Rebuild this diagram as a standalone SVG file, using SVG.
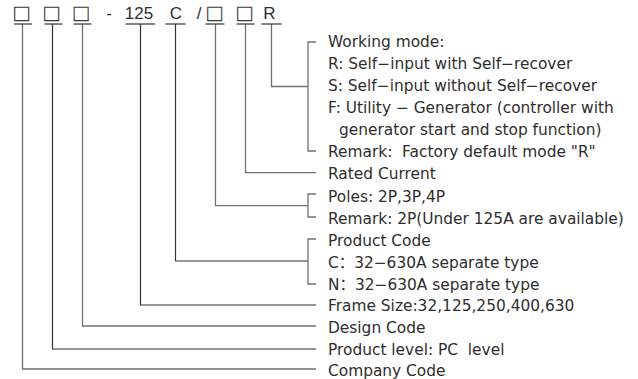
<svg xmlns="http://www.w3.org/2000/svg" width="638" height="379" viewBox="0 0 638 379">
<style>
  .t { font-family: "DejaVu Sans", "Noto Sans CJK SC", sans-serif; font-size: 15.4px; fill: #2e2e2e; }
  .h { font-family: "Liberation Sans", Arial, sans-serif; font-size: 17px; fill: #2e2e2e; text-anchor: middle; }
  .b { font-family: "DejaVu Sans", sans-serif; font-size: 19.5px; fill: #3a3a3a; text-anchor: middle; }
  .d { fill: none; stroke: #333; stroke-width: 1.2; }
  .g { fill: none; stroke: #707070; stroke-width: 1.3; }
</style>
<rect width="638" height="379" fill="#fff"/>
<g id="connectors">
  <path class="g" d="M22.5,24 V369 H316"/>
  <path class="d" d="M52.5,24 V349 H316"/>
  <path class="g" d="M82.5,24 V326 H316"/>
  <path class="d" d="M140.5,24 V305 H316"/>
  <path class="d" d="M175.5,24 V261 H308"/>
  <path class="g" d="M316,239 H308 V284 H316"/>
  <path class="g" d="M215.5,24 V205.7 H308"/>
  <path class="g" d="M316,194 H308 V217 H316"/>
  <path class="g" d="M245.5,24 V172.7 H316"/>
  <path class="g" d="M271.5,24 V86.5 H308"/>
  <path class="g" d="M316,42 H308 V151 H316"/>
</g>
<g id="company">
  <text class="b" x="21.5" y="18.5">□</text>
  <path class="d" d="M14,24 H32"/>
  <text class="t" x="328" y="376.3">Company Code</text>
</g>
<g id="product-level">
  <text class="b" x="51.5" y="18.5">□</text>
  <path class="d" d="M44.5,24 H62.5"/>
  <text class="t" x="328" y="355.2">Product level: PC&#160; level</text>
</g>
<g id="design-code">
  <text class="b" x="81" y="18.5">□</text>
  <path class="d" d="M73.5,24 H91.5"/>
  <text class="t" x="328" y="333.3">Design Code</text>
</g>
<g id="dash">
  <text class="h" x="109" y="19">-</text>
</g>
<g id="frame-size">
  <text class="h" x="139" y="19">125</text>
  <path class="d" d="M125.5,24 H155"/>
  <text class="t" x="328" y="311.4">Frame Size:32,125,250,400,630</text>
</g>
<g id="product-code">
  <text class="h" x="176" y="19">C</text>
  <path class="d" d="M165.5,24 H185.5"/>
  <text class="t" x="328" y="245.8">Product Code</text>
  <text class="t" x="328" y="267.7">C：32−630A separate type</text>
  <text class="t" x="328" y="289.6">N：32−630A separate type</text>
</g>
<g id="slash">
  <text class="h" x="199" y="19">/</text>
</g>
<g id="poles">
  <text class="b" x="214.5" y="18.5">□</text>
  <path class="d" d="M205.5,24 H224.5"/>
  <text class="t" x="328" y="202.1">Poles: 2P,3P,4P</text>
  <text class="t" x="328" y="224">Remark: 2P(Under 125A are available)</text>
</g>
<g id="rated-current">
  <text class="b" x="244.5" y="18.5">□</text>
  <path class="d" d="M236.5,24 H254.5"/>
  <text class="t" x="328" y="178.7">Rated Current</text>
</g>
<g id="working-mode">
  <text class="h" x="269.5" y="19">R</text>
  <path class="d" d="M261.5,24 H281.5"/>
  <text class="t" x="328" y="47">Working mode:</text>
  <text class="t" x="328" y="68.9">R: Self−input with Self−recover</text>
  <text class="t" x="328" y="90.8">S: Self−input without Self−recover</text>
  <text class="t" x="328" y="112.8">F: Utility − Generator (controller with</text>
  <text class="t" x="339" y="134.7">generator start and stop function)</text>
  <text class="t" x="328" y="156.7">Remark:&#160; Factory default mode "R"</text>
</g>
</svg>
